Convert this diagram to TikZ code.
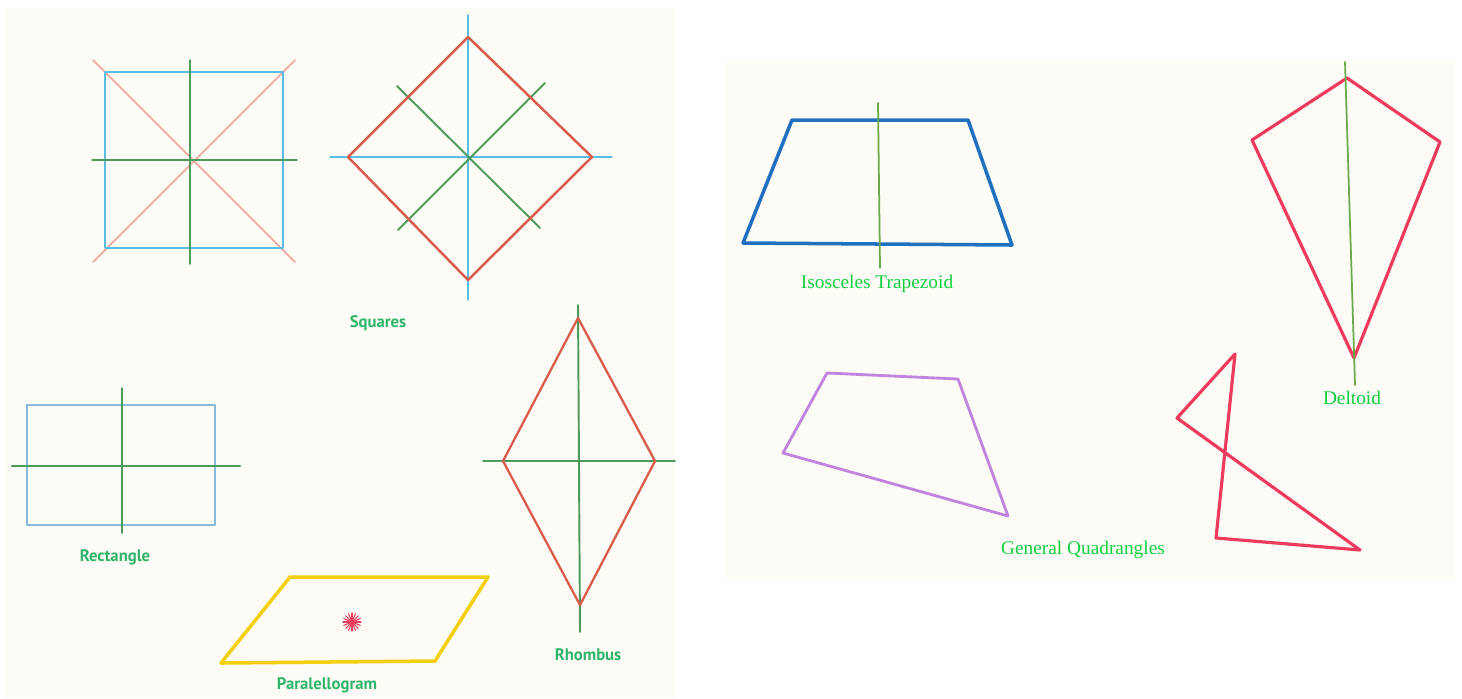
\documentclass[tikz,border=0pt]{standalone}
\usepackage{fontspec}
\setmainfont{Liberation Serif}
\newfontfamily\quadsans{PT Sans}

\definecolor{paper}{HTML}{FDFBF5}
\definecolor{skyblue}{HTML}{5CBDE3}
\definecolor{paleblue}{HTML}{86B9DA}
\definecolor{deepblue}{HTML}{2070C0}
\definecolor{axisgreen}{HTML}{4E9A5C}
\definecolor{lightgreen}{HTML}{6AAA4A}
\definecolor{pinkline}{HTML}{F2AAA2}
\definecolor{brick}{HTML}{DA5A4C}
\definecolor{crimson}{HTML}{EE3A5C}
\definecolor{lilac}{HTML}{C084DE}
\definecolor{gold}{HTML}{F2D010}
\definecolor{tagleft}{HTML}{2FB56A}
\definecolor{tagright}{HTML}{10D040}

\tikzset{
  axis/.style={axisgreen, line width=1.1pt},
  tagL/.style={text=tagleft, font=\quadsans\bfseries\fontsize{9.5}{11}\selectfont},
  tagR/.style={text=tagright, font=\fontsize{11}{13}\selectfont}
}

\begin{document}
\begin{tikzpicture}[x=0.02cm, y=-0.02cm, line join=round, line cap=round]
	\useasboundingbox (0,0) rectangle (1462,698);
	\fill[paper] (5,8) rectangle (675,698);
	\fill[paper] (725,62) rectangle (1455,578);
	
	% square, upright
	\draw[pinkline, line width=1pt] (93,60) -- (295,262);
	\draw[pinkline, line width=1pt] (93,262) -- (295,60);
	\draw[skyblue, line width=1.6pt] (105,72) rectangle (283,248);
	\draw[axis] (190,60) -- (190,264);
	\draw[axis] (92,160) -- (297,160);
	
	% square, turned
	\draw[skyblue, line width=1pt] (468,15) -- (468,300);
	\draw[skyblue, line width=1pt] (330,157) -- (612,157);
	\draw[axis] (397,86) -- (540,228);
	\draw[axis] (545,83) -- (398,230);
	\draw[brick, line width=1.4pt] (468,37) -- (592,157) -- (468,280) -- (348,157) -- cycle;
	\node[tagL] (squares) at (378,323) {Squares};
	
	% rectangle
	\draw[paleblue, line width=1.4pt] (27,405) rectangle (215,525);
	\draw[axis] (122,388) -- (122,533);
	\draw[axis, line width=1.6pt] (12,466) -- (240,466);
	\node[tagL] (rectangle) at (115,557) {Rectangle};
	
	% rhombus
	\draw[axis] (578,305) -- (580,632);
	\draw[axis] (483,461) -- (675,461);
	\draw[brick, line width=1.3pt] (578,318) -- (655,461) -- (580,605) -- (503,461) -- cycle;
	\node[tagL] (rhombus) at (588,655) {Rhombus};
	
	% parallelogram
	\draw[gold, line width=2pt] (290,577) -- (488,577) -- (435,661) -- (221,663) -- cycle;
	\foreach \a in {0,22.5,...,337.5}
		\draw[crimson, line width=0.6pt] (352,622) -- ++(\a:9);
	\node[tagL] (paral) at (327,685) {Paralellogram};
	
	% isosceles trapezoid
	\draw[deepblue, line width=2pt] (792,120) -- (968,120) -- (1012,245) -- (743,243) -- cycle;
	\draw[lightgreen, line width=1pt] (878,103) -- (880,268);
	\node[tagR] (trapez) at (877,284) {Isosceles Trapezoid};
	
	% deltoid
	\draw[crimson, line width=1.8pt] (1347,78) -- (1440,142) -- (1354,358) -- (1252,140) -- cycle;
	\draw[lightgreen, line width=1pt] (1345,62) -- (1355,385);
	\node[tagR] (deltoid) at (1352,398) {Deltoid};
	
	% general quadrangles
	\draw[lilac, line width=1.6pt] (827,373) -- (958,379) -- (1008,516) -- (783,453) -- cycle;
	\draw[crimson, line width=1.8pt] (1235,354) -- (1216,538) -- (1360,550) -- (1177,418) -- cycle;
	\node[tagR] (general) at (1083,550) {General Quadrangles};
\end{tikzpicture}
\end{document}
